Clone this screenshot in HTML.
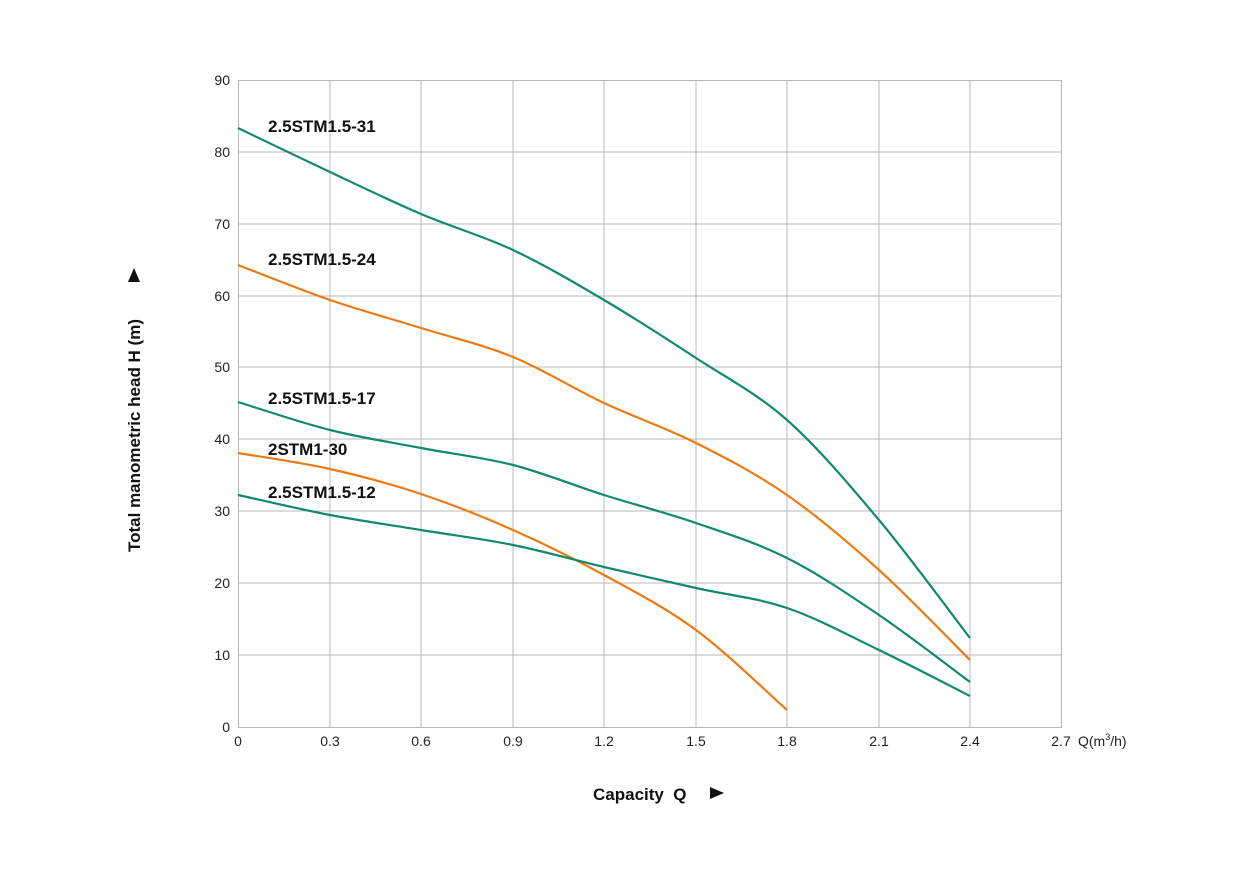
<!DOCTYPE html>
<html><head><meta charset="utf-8">
<style>
html,body{margin:0;padding:0;background:#fff;}
svg{display:block;font-family:"Liberation Sans",sans-serif;}
</style></head>
<body>
<svg id="s" width="1237" height="879" viewBox="0 0 1237 879" xmlns="http://www.w3.org/2000/svg">
<g stroke="#b8b8b8" stroke-width="1" fill="none">
<rect x="238.5" y="80.5" width="823" height="647"/>
<line x1="330" y1="80" x2="330" y2="727"/><line x1="421" y1="80" x2="421" y2="727"/>
<line x1="513" y1="80" x2="513" y2="727"/><line x1="604" y1="80" x2="604" y2="727"/>
<line x1="696" y1="80" x2="696" y2="727"/><line x1="787" y1="80" x2="787" y2="727"/>
<line x1="879" y1="80" x2="879" y2="727"/><line x1="970" y1="80" x2="970" y2="727"/>
<line x1="238" y1="152" x2="1061" y2="152"/><line x1="238" y1="224" x2="1061" y2="224"/>
<line x1="238" y1="296" x2="1061" y2="296"/><line x1="238" y1="367" x2="1061" y2="367"/>
<line x1="238" y1="439" x2="1061" y2="439"/><line x1="238" y1="511" x2="1061" y2="511"/>
<line x1="238" y1="583" x2="1061" y2="583"/><line x1="238" y1="655" x2="1061" y2="655"/>
</g>
<g font-size="14" fill="#222" text-anchor="end">
<text x="230" y="85">90</text><text x="230" y="157">80</text><text x="230" y="229">70</text>
<text x="230" y="301">60</text><text x="230" y="372">50</text><text x="230" y="444">40</text>
<text x="230" y="516">30</text><text x="230" y="588">20</text><text x="230" y="660">10</text>
<text x="230" y="732">0</text>
</g>
<g font-size="14" fill="#222" text-anchor="middle">
<text x="238" y="746">0</text><text x="330" y="746">0.3</text><text x="421" y="746">0.6</text>
<text x="513" y="746">0.9</text><text x="604" y="746">1.2</text><text x="696" y="746">1.5</text>
<text x="787" y="746">1.8</text><text x="879" y="746">2.1</text><text x="970" y="746">2.4</text>
<text x="1061" y="746">2.7</text>
</g>
<text x="1078" y="746" font-size="14" fill="#222">Q(m<tspan font-size="9" dy="-6">3</tspan><tspan dy="6">/h)</tspan></text>
<text x="593" y="800" font-size="17" font-weight="bold" fill="#111">Capacity&#160; Q</text>
<polygon points="710,787 724,793 710,799" fill="#111"/>
<text transform="translate(140,552) rotate(-90)" font-size="17" font-weight="bold" fill="#111">Total manometric head H (m)</text>
<polygon points="128,282 134,268 140,282" fill="#111"/>
<g font-size="17" font-weight="bold" fill="#111">
<text x="268" y="132">2.5STM1.5-31</text>
<text x="268" y="265">2.5STM1.5-24</text>
<text x="268" y="404">2.5STM1.5-17</text>
<text x="268" y="455">2STM1-30</text>
<text x="268" y="498">2.5STM1.5-12</text>
</g>
<g id="curves" fill="none" stroke-width="2.2"></g>
</svg>
<script>
var G="#12896b",O="#ec7a12";
var data=[
[G,[[238,128],[330,172],[421,214],[513,250],[604,300],[696,358],[787,420],[879,520],[970,638]]],
[O,[[238,265],[330,300],[421,328],[513,357],[604,403],[696,443],[787,495],[879,570],[970,660]]],
[G,[[238,402],[330,430],[421,448],[513,465],[604,495],[696,523],[787,558],[879,615],[970,682]]],
[O,[[238,453],[330,469],[421,494],[513,530],[604,575],[696,630],[787,710]]],
[G,[[238,495],[330,515],[421,530],[513,545],[604,567],[696,588],[787,608],[879,650],[970,696]]]
];
var g=document.getElementById("curves");
data.forEach(function(d){
 var p=d[1],s="M"+p[0][0]+","+p[0][1];
 for(var i=0;i<p.length-1;i++){
  var p0=p[i-1]||p[i],p1=p[i],p2=p[i+1],p3=p[i+2]||p2;
  var c1=[p1[0]+(p2[0]-p0[0])/6,p1[1]+(p2[1]-p0[1])/6];
  var c2=[p2[0]-(p3[0]-p1[0])/6,p2[1]-(p3[1]-p1[1])/6];
  s+=" C"+c1+" "+c2+" "+p2;
 }
 var e=document.createElementNS("http://www.w3.org/2000/svg","path");
 e.setAttribute("d",s);e.setAttribute("stroke",d[0]);g.appendChild(e);
});
</script>
</body></html>
